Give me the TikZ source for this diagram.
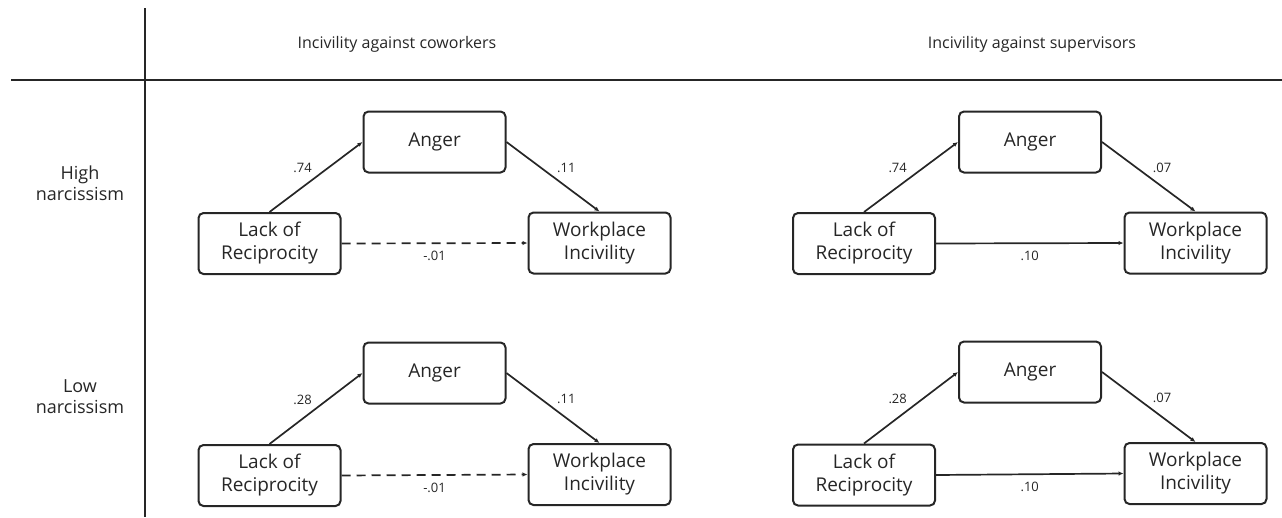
\documentclass[tikz,border=0pt]{standalone}
\usepackage{fontspec}
\setmainfont{Open Sans}
\usetikzlibrary{arrows.meta}
\tikzset{
  box/.style={draw, rounded corners=5pt, line width=2pt, minimum width=142pt,
    minimum height=61pt, inner sep=0pt, align=center,
    font=\fontsize{19}{23}\selectfont},
  link/.style={-{Latex[length=5pt,width=4.5pt]}, line width=1.7pt},
  coef/.style={font=\fontsize{13}{15}\selectfont},
  rowlabel/.style={align=center, font=\fontsize{18}{21}\selectfont},
  colhead/.style={font=\fontsize{16}{19}\selectfont}
}

\begin{document}
\begin{tikzpicture}[x=1pt, y=-1pt, black!85]
\useasboundingbox (0,0) rectangle (1282,517);
% Table lines
    \draw[line width=1.8pt] (11,80) -- (1282,80);
    \draw[line width=1.8pt] (145,8) -- (145,517);
% Headers
    \node[colhead] (headC) at (397,44) {Incivility against coworkers};
    \node[colhead] (headS) at (1032,44) {Incivility against supervisors};
    \node[rowlabel] (rowHigh) at (80,183) {High\\narcissism};
    \node[rowlabel] (rowLow) at (80,397) {Low\\narcissism};
% High narcissism, coworkers
    \node[box] (angerHC) at (434.5,142) {Anger};
    \node[box] (lackHC) at (269.5,243.5) {Lack of\\Reciprocity};
    \node[box] (workHC) at (599.5,243) {Workplace\\Incivility};
    \draw[link] (lackHC.north) -- node[coef, above left] {.74} (angerHC.west);
    \draw[link] (angerHC.east) -- node[coef, above right] {.11} (workHC.north);
    \draw[link, dash pattern=on 9pt off 6pt] (lackHC.east) -- node[coef, below=4pt] {-.01} (workHC.west);
% High narcissism, supervisors
    \node[box] (angerHS) at (1030,142) {Anger};
    \node[box] (lackHS) at (864,243.5) {Lack of\\Reciprocity};
    \node[box] (workHS) at (1195.5,243) {Workplace\\Incivility};
    \draw[link] (lackHS.north) -- node[coef, above left] {.74} (angerHS.west);
    \draw[link] (angerHS.east) -- node[coef, above right] {.07} (workHS.north);
    \draw[link] (lackHS.east) -- node[coef, below=4pt] {.10} (workHS.west);
% Low narcissism, coworkers
    \node[box] (angerLC) at (434.5,373) {Anger};
    \node[box] (lackLC) at (269.5,475.5) {Lack of\\Reciprocity};
    \node[box] (workLC) at (599.5,474.5) {Workplace\\Incivility};
    \draw[link] (lackLC.north) -- node[coef, above left] {.28} (angerLC.west);
    \draw[link] (angerLC.east) -- node[coef, above right] {.11} (workLC.north);
    \draw[link, dash pattern=on 9pt off 6pt] (lackLC.east) -- node[coef, below=4pt] {-.01} (workLC.west);
% Low narcissism, supervisors
    \node[box] (angerLS) at (1030,372) {Anger};
    \node[box] (lackLS) at (864,475) {Lack of\\Reciprocity};
    \node[box] (workLS) at (1195.5,473.5) {Workplace\\Incivility};
    \draw[link] (lackLS.north) -- node[coef, above left] {.28} (angerLS.west);
    \draw[link] (angerLS.east) -- node[coef, above right] {.07} (workLS.north);
    \draw[link] (lackLS.east) -- node[coef, below=4pt] {.10} (workLS.west);
\end{tikzpicture}
\end{document}
